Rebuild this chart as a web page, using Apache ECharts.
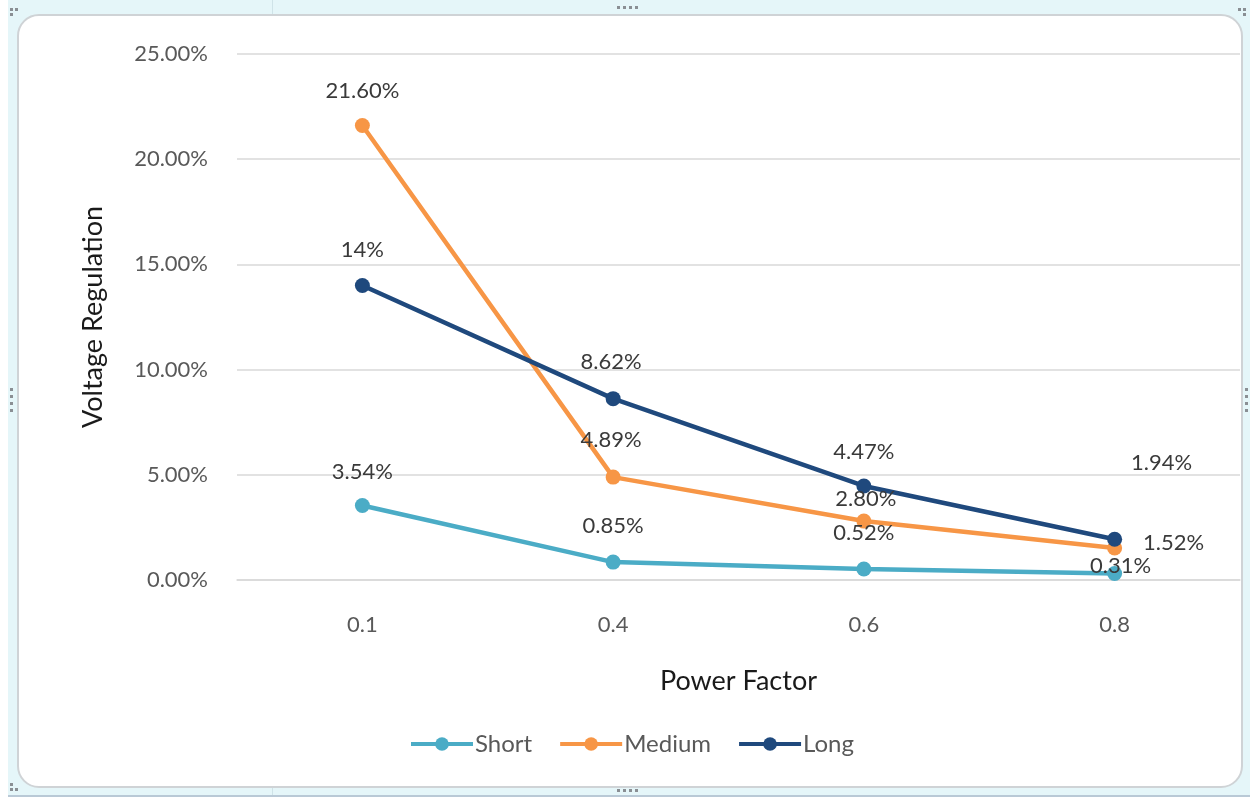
<!DOCTYPE html>
<html>
<head>
<meta charset="utf-8">
<script src="https://cdn.jsdelivr.net/npm/echarts@6/dist/echarts.min.js"></script>
<style>
  html, body { margin: 0; padding: 0; width: 1253px; height: 797px; overflow: hidden; background: #ffffff; }
  #sheet { position: absolute; left: 8px; top: 0; width: 1242px; height: 795px; background: #e5f6f9; border-bottom: 2px solid #b9c9d6; }
  #frame { position: absolute; left: 17px; top: 14px; width: 1222px; height: 770px; background: #ffffff;
           border: 2px solid #cfd3d6; border-radius: 22px; }
  #chart { position: absolute; left: 0; top: 0; width: 1253px; height: 797px; }
  .dot { position: absolute; width: 3px; height: 3px; background: #8a8f94; }
  .vline { position: absolute; width: 1px; background: #cfe3e8; }
</style>
</head>
<body>
<div id="sheet"></div>
<div class="vline" style="left:272px; top:0; height:14px;"></div>
<div class="vline" style="left:272px; top:786px; height:9px;"></div>
<div id="frame"></div>
<div id="handles"></div>
<div id="chart"></div>
<script>
// Category axis and series values (percent)
const powerFactor = ['0.1', '0.4', '0.6', '0.8'];
const shortLine = [3.54, 0.85, 0.52, 0.31];
const mediumLine = [21.60, 4.89, 2.80, 1.52];
const longLine = [14, 8.62, 4.47, 1.94];
// Decimal places shown in each point's label
const shortDigits = [2, 2, 2, 2];
const mediumDigits = [2, 2, 2, 2];
const longDigits = [0, 2, 2, 2];
const yTicks = { min: 0, max: 25, step: 5 };

// Selection handles around the chart frame
(function () {
  const h = document.getElementById('handles');
  const pts = [];
  for (let i = 0; i < 4; i++) { pts.push([617 + i * 6, 6]); pts.push([617 + i * 6, 789]); }
  for (let i = 0; i < 4; i++) { pts.push([10, 388 + i * 7]); pts.push([1245, 388 + i * 7]); }
  pts.push([10, 8], [15, 8], [10, 13], [1238, 8], [1243, 8], [1243, 13],
           [10, 783], [10, 788], [15, 788]);
  pts.forEach(p => {
    const d = document.createElement('div');
    d.className = 'dot';
    d.style.left = p[0] + 'px';
    d.style.top = p[1] + 'px';
    h.appendChild(d);
  });
})();

const FONT = 'Lato, "Open Sans", "Liberation Sans", sans-serif';

function pointsWithLabels(values, digits, offsets) {
  return values.map((v, i) => ({
    value: v,
    label: {
      show: true,
      position: 'inside',
      offset: offsets[i],
      formatter: () => v.toFixed(digits[i]) + '%'
    }
  }));
}

function lineSeries(name, color, values, digits, offsets) {
  return {
    name: name,
    type: 'line',
    data: pointsWithLabels(values, digits, offsets),
    symbol: 'circle',
    symbolSize: 15,
    lineStyle: { width: 4.5, color: color },
    itemStyle: { color: color },
    label: { color: '#3a3a3a', fontSize: 22, fontFamily: FONT },
    emphasis: { disabled: true },
    animation: false
  };
}

const chart = echarts.init(document.getElementById('chart'), null, { renderer: 'canvas' });
chart.setOption({
  backgroundColor: 'transparent',
  textStyle: { fontFamily: FONT },
  grid: { left: 237, right: 13, top: 54, bottom: 217, containLabel: false },
  legend: {
    left: 404,
    top: 727,
    itemWidth: 62,
    itemHeight: 17,
    itemGap: 26,
    lineStyle: { width: 4 },
    textStyle: { color: '#595959', fontSize: 24, fontFamily: FONT, padding: [0, 0, 0, -3] },
    data: ['Short', 'Medium', 'Long']
  },
  xAxis: {
    type: 'category',
    data: powerFactor,
    boundaryGap: true,
    axisLine: { show: true, lineStyle: { color: '#d9d9d9', width: 1.5 } },
    axisTick: { show: false },
    axisLabel: { color: '#595959', fontSize: 22, margin: 34, fontFamily: FONT },
    name: 'Power Factor',
    nameLocation: 'middle',
    nameGap: 88,
    nameTextStyle: { color: '#1a1a1a', fontSize: 27, fontFamily: FONT }
  },
  yAxis: {
    type: 'value',
    min: yTicks.min,
    max: yTicks.max,
    interval: yTicks.step,
    axisLine: { show: false },
    axisTick: { show: false },
    splitLine: { lineStyle: { color: '#d9d9d9', width: 1.5 } },
    axisLabel: { color: '#595959', fontSize: 22, margin: 29, fontFamily: FONT,
                 formatter: v => v.toFixed(2) + '%' },
    name: 'Voltage Regulation',
    nameLocation: 'middle',
    nameGap: 130,
    nameTextStyle: { color: '#1a1a1a', fontSize: 27, fontFamily: FONT }
  },
  series: [
    lineSeries('Short', '#4bacc6', shortLine, shortDigits, [[0, -34], [0, -36], [0, -36], [6, -8]]),
    lineSeries('Medium', '#f79646', mediumLine, mediumDigits, [[0, -35], [-2, -37], [2, -22], [59, -5]]),
    lineSeries('Long', '#1f497d', longLine, longDigits, [[0, -36], [-2, -37], [0, -34], [47, -76]])
  ]
});
</script>
</body>
</html>
